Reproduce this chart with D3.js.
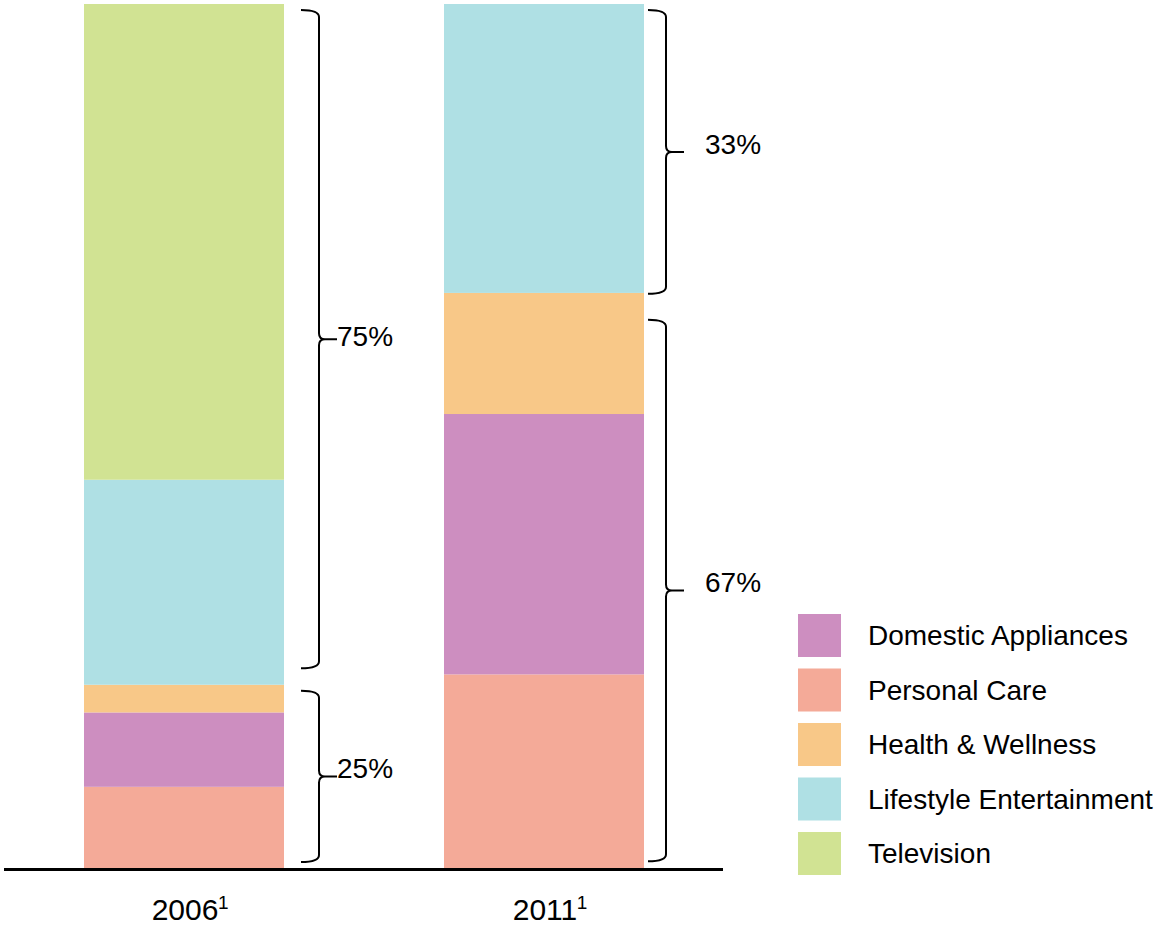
<!DOCTYPE html>
<html>
<head>
<meta charset="utf-8">
<script src="https://cdn.jsdelivr.net/npm/d3@7"></script>
<style>
  html, body { margin: 0; padding: 0; background: #fff; }
  svg { display: block; }
  text { font-family: "Liberation Sans", Arial, sans-serif; fill: #000; }
</style>
</head>
<body>
<svg id="chart" width="1155" height="926"></svg>
<script>
// ---- data ----
const years = ["2006", "2011"];
const yearNote = ["1", "1"];
const segments = ["Personal Care", "Domestic Appliances", "Health & Wellness", "Lifestyle Entertainment", "Television"];
const values2006 = [9.5, 8.6, 3.2, 23.7, 55.0];
const values2011 = [22.5, 30.1, 14.0, 33.4, 0];
const legendOrder = ["Domestic Appliances", "Personal Care", "Health & Wellness", "Lifestyle Entertainment", "Television"];
const colors = ["#f4aa98", "#cd8ec0", "#f8c888", "#afe0e4", "#d1e393"];
// bracket annotations: [year, from %, to %, label]
const bracketYears = ["2006", "2006", "2011", "2011"];
const bracketFrom = [23.2, 0.8, 66.5, 0.9];
const bracketTo = [99.3, 20.6, 99.3, 63.5];
const bracketLabels = ["75%", "25%", "33%", "67%"];

// ---- layout ----
const svg = d3.select("#chart");
const y = d3.scaleLinear().domain([0, 100]).range([869, 4]);
const x = d3.scaleBand().domain(years).range([4, 724]).paddingInner(160 / 360).paddingOuter(80 / 360);
const color = d3.scaleOrdinal().domain(segments).range(colors);

const table = years.map((yr, i) => {
  const row = { year: yr };
  const vals = i === 0 ? values2006 : values2011;
  segments.forEach((s, j) => row[s] = vals[j]);
  return row;
});
const series = d3.stack().keys(segments)(table);

svg.append("g").selectAll("g").data(series).join("g")
  .attr("fill", d => color(d.key))
  .selectAll("rect").data(d => d).join("rect")
  .attr("x", d => x(d.data.year))
  .attr("width", x.bandwidth())
  .attr("y", d => y(d[1]))
  .attr("height", d => y(d[0]) - y(d[1]));

// baseline
svg.append("line")
  .attr("x1", 4).attr("x2", 723)
  .attr("y1", y(0) + 0.5).attr("y2", y(0) + 0.5)
  .attr("stroke", "#000").attr("stroke-width", 3);

// x labels
years.forEach((yr, i) => {
  const cx = x(yr) + x.bandwidth() / 2 + 1;
  const t = svg.append("text")
    .attr("x", cx).attr("y", 920)
    .attr("text-anchor", "middle")
    .style("font-size", "30px")
    .text(yr);
  const w = t.node().getComputedTextLength();
  svg.append("text")
    .attr("x", cx + w / 2 - 0.5).attr("y", 909)
    .style("font-size", "19px")
    .text(yearNote[i]);
});

// brackets
bracketYears.forEach((yr, i) => {
  const bx = x(yr) + x.bandwidth() + (i < 2 ? 35 : 22);
  const y0 = y(bracketTo[i]);
  const y1 = y(bracketFrom[i]);
  const ym = (y0 + y1) / 2;
  const arm = 18;
  const p = d3.path();
  p.moveTo(bx - arm, y0);
  p.quadraticCurveTo(bx, y0, bx, y0 + 7);
  p.lineTo(bx, ym - 6);
  p.quadraticCurveTo(bx, ym, bx + 6, ym);
  p.lineTo(bx + arm, ym);
  p.moveTo(bx + 6, ym);
  p.quadraticCurveTo(bx, ym, bx, ym + 6);
  p.lineTo(bx, y1 - 7);
  p.quadraticCurveTo(bx, y1, bx - arm, y1);
  svg.append("path")
    .attr("d", p.toString())
    .attr("fill", "none")
    .attr("stroke", "#000")
    .attr("stroke-width", 2);
  svg.append("text")
    .attr("x", bx + (i < 2 ? 18 : 39))
    .attr("y", ym + (i === 0 ? 7 : 2))
    .style("font-size", "28px")
    .text(bracketLabels[i]);
});

// legend
const lg = svg.append("g");
legendOrder.forEach((name, i) => {
  const ly = 614 + i * 54.5;
  lg.append("rect")
    .attr("x", 798).attr("y", ly)
    .attr("width", 43).attr("height", 43)
    .attr("fill", color(name));
  lg.append("text")
    .attr("x", 868).attr("y", ly + 31)
    .style("font-size", "28px")
    .text(name);
});
</script>
</body>
</html>
